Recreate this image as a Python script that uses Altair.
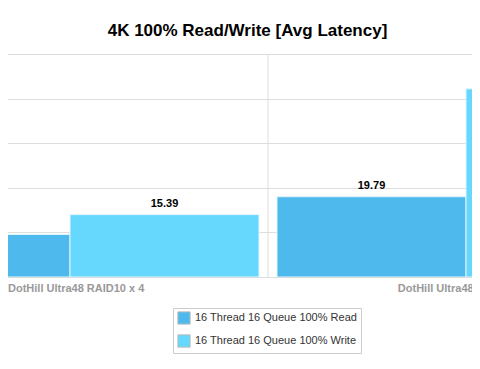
import altair as alt
import pandas as pd

cat_labels = ["DotHill Ultra48 RAID10 x 4", "DotHill Ultra48 RAID50 x 4"]
series = ["16 Thread 16 Queue 100% Read", "16 Thread 16 Queue 100% Write"]
read_vals = [10.5, 19.79]
write_vals = [15.39, 46.4]
colors = ["#4db9ec", "#66d8fe"]
grid_vals = [0, 11, 22, 33, 44, 55]

rows = []
for c, r, w in zip(cat_labels, read_vals, write_vals):
    rows.append({"cat": c, "series": series[0], "val": r, "lab": f"{r:.2f}"})
    rows.append({"cat": c, "series": series[1], "val": w, "lab": f"{w:.2f}"})
df = pd.DataFrame(rows)
bounds = pd.DataFrame({"cat": cat_labels})

W, H = 464, 223
xscale = alt.Scale(domain=cat_labels, range=[-136, 656], paddingInner=0, paddingOuter=0)
yscale = alt.Scale(domain=[0, 55], nice=False)
xoff_scale = alt.Scale(paddingInner=0, paddingOuter=0.0476)

first_test = f"datum.value == '{cat_labels[0]}'"
x_axis = alt.Axis(title=None, labelAngle=0, ticks=False, domain=False, grid=False,
                  labelColor="#999999", labelFontWeight="bold", labelFontSize=11,
                  labelFont="Liberation Sans", labelPadding=5, labelOverlap=False,
                  labelBound=False, labelLimit=0,
                  labelAlign={"condition": {"test": first_test, "value": "left"}, "value": "center"},
                  labelOffset={"condition": {"test": first_test, "value": -62}, "value": 0})
y_axis = alt.Axis(title=None, values=grid_vals, labels=False, ticks=False,
                  domain=False, grid=True, gridColor="#dddddd")

bars = alt.Chart(df).mark_bar(clip=True, stroke="#e4f5fd", strokeWidth=1).encode(
    x=alt.X("cat:N", scale=xscale, axis=x_axis),
    xOffset=alt.XOffset("series:N", scale=xoff_scale, sort=series),
    y=alt.Y("val:Q", scale=yscale, axis=y_axis),
    color=alt.Color("series:N", scale=alt.Scale(domain=series, range=colors),
                    legend=alt.Legend(title=None, orient="none", legendX=165, legendY=254,
                                      strokeColor="#cccccc", padding=3, symbolType="square",
                                      symbolSize=150, symbolStrokeColor="#bbbbbb",
                                      symbolStrokeWidth=1, labelFontSize=11,
                                      labelColor="#333333", labelFont="Liberation Sans",
                                      labelLimit=0, rowPadding=5, symbolOffset=1)),
)

texts = alt.Chart(df).mark_text(clip=True, baseline="bottom", dy=-6, fontSize=11,
                                fontWeight="bold", color="#000000",
                                font="Liberation Sans").encode(
    x=alt.X("cat:N", scale=xscale),
    xOffset=alt.XOffset("series:N", scale=xoff_scale, sort=series),
    y=alt.Y("val:Q", scale=yscale),
    text="lab:N",
)

vlines = alt.Chart(bounds).mark_rule(clip=True, color="#dddddd", strokeWidth=1).encode(
    x=alt.X("cat:N", scale=xscale, bandPosition=0),
    y=alt.value(0),
    y2=alt.value(H),
)

chart = alt.layer(bars, texts, vlines).properties(
    width=W, height=H,
    title=alt.TitleParams("4K 100% Read/Write [Avg Latency]", fontSize=17, fontWeight="bold",
                          font="Liberation Sans", color="#000000", anchor="middle", dx=7.5,
                          offset=14),
    autosize=alt.AutoSizeParams(type="none"),
    padding={"left": 0, "top": 46, "right": 0, "bottom": 80},
).configure_view(stroke=None)

chart.save("out.html", embed_options={"renderer": "svg", "actions": False})
